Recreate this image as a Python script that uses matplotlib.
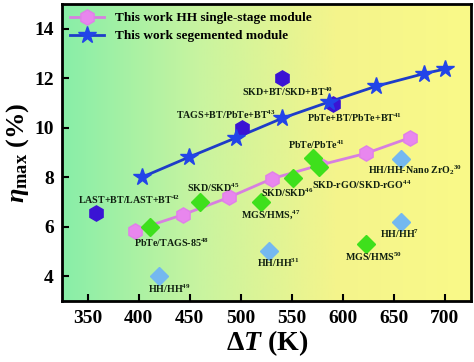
import matplotlib
matplotlib.use("Agg")
import matplotlib.pyplot as plt
import numpy as np
from matplotlib.colors import LinearSegmentedColormap
from matplotlib.lines import Line2D

plt.rcParams['font.family'] = 'Liberation Serif'
plt.rcParams['font.weight'] = 'bold'
plt.rcParams['mathtext.fontset'] = 'custom'
plt.rcParams['mathtext.rm'] = 'Liberation Serif:bold'
plt.rcParams['mathtext.it'] = 'Liberation Serif:italic:bold'
plt.rcParams['mathtext.bf'] = 'Liberation Serif:bold'
plt.rcParams['mathtext.default'] = 'rm'

# this work
hh_dt = [396, 444, 489, 531, 578, 623, 666]
hh_eta = [5.85, 6.5, 7.2, 7.95, 8.5, 8.97, 9.6]
seg_dt = [403, 449, 495, 541, 587, 633, 680, 700]
seg_eta = [8.0, 8.81, 9.59, 10.39, 11.05, 11.68, 12.19, 12.37]

# other works, segmented (dark hexagons)
seg_ref_dt = [358, 541, 501, 591]
seg_ref_eta = [6.55, 12.0, 10.0, 10.97]

# other works, green diamonds
grn_dt = [411, 460, 520, 551, 571, 577, 623]
grn_eta = [6.0, 7.01, 6.99, 7.97, 8.8, 8.4, 5.32]

# HH/HH light blue diamonds
hhref_dt = [420, 528, 657, 657]
hhref_eta = [4.0, 5.01, 6.2, 8.73]

# labels: text, x, y
labels = [
    (r"SKD+BT/SKD+BT$^{40}$", 546, 11.45),
    (r"TAGS+BT/PbTe+BT$^{43}$", 486, 10.52),
    (r"PbTe+BT/PbTe+BT$^{41}$", 612, 10.39),
    (r"PbTe/PbTe$^{41}$", 574, 9.32),
    (r"HH/HH-Nano ZrO$_2$$^{30}$", 671, 8.3),
    (r"SKD-rGO/SKD-rGO$^{44}$", 619, 7.68),
    (r"SKD/SKD$^{46}$", 546, 7.37),
    (r"SKD/SKD$^{45}$", 473, 7.59),
    (r"LAST+BT/LAST+BT$^{42}$", 391, 7.08),
    (r"MGS/HMS,$^{47}$", 530, 6.48),
    (r"PbTe/TAGS-85$^{48}$", 432, 5.37),
    (r"HH/HH$^{31}$", 537, 4.57),
    (r"HH/HH$^{7}$", 656, 5.71),
    (r"MGS/HMS$^{50}$", 630, 4.79),
    (r"HH/HH$^{49}$", 430, 3.5),
]

fig = plt.figure(figsize=(4.74, 3.62), dpi=100)
ax = fig.add_axes([0.131, 0.168, 0.863, 0.821])

# green -> yellow background
cmap = LinearSegmentedColormap.from_list("bg", ["#88eea8", "#c8f4a0", "#f4f48c", "#fafa88"])
grad = np.linspace(0, 1, 256).reshape(1, -1)
ax.imshow(grad, cmap=cmap, aspect='auto', extent=[0, 1, 0, 1],
          transform=ax.transAxes, zorder=0)

ax.plot(hh_dt, hh_eta, '-', color='#d77fe0', lw=2, zorder=3)
ax.plot(hh_dt, hh_eta, 'h', color='#e886ee', ms=11, mec='#e080e8', zorder=4)
ax.plot(seg_dt, seg_eta, '-', color='#1e3cc8', lw=2, zorder=3)
ax.plot(seg_dt, seg_eta, '*', color='#2244e8', ms=13, zorder=5)

ax.plot(seg_ref_dt, seg_ref_eta, 'h', color='#3a14d4', ms=11, ls='none', zorder=4)
ax.plot(grn_dt, grn_eta, 'D', color='#3ee01c', ms=9, ls='none', zorder=4)
ax.plot(hhref_dt, hhref_eta, 'D', color='#74b8f0', ms=9, ls='none', zorder=4)

for txt, x, y in labels:
    ax.text(x, y, txt, fontsize=7.2, fontweight='bold', color='#102010',
            ha='center', va='center', zorder=6)

h1 = Line2D([], [], color='#d77fe0', lw=2, marker='h', ms=11, mfc='#e886ee', mec='#e080e8')
h2 = Line2D([], [], color='#1e3cc8', lw=2, marker='*', ms=13, mfc='#2244e8', mec='#2244e8')
ax.legend([h1, h2], ['This work HH single-stage module', 'This work segemented module'],
          loc='upper left', frameon=False, handlelength=2.6,
          borderaxespad=0.2, labelspacing=0.45, prop={'weight': 'bold', 'size': 9.5})

ax.set_xlim(325, 726)
ax.set_ylim(3, 15)
ax.set_xticks([350, 400, 450, 500, 550, 600, 650, 700])
ax.set_yticks([4, 6, 8, 10, 12, 14])
ax.tick_params(direction='in', length=5, width=1.5, labelsize=14, pad=6)
for lb in ax.get_xticklabels() + ax.get_yticklabels():
    lb.set_fontweight('bold')
for s in ax.spines.values():
    s.set_linewidth(2)

ax.set_xlabel(r"$\Delta \mathit{T}$ (K)", fontsize=20, fontweight='bold', labelpad=1)
ax.set_ylabel(r"$\mathit{\eta}_{\rm max}$ (%)", fontsize=19, fontweight='bold', labelpad=2)

fig.savefig("out.png", dpi=100)
